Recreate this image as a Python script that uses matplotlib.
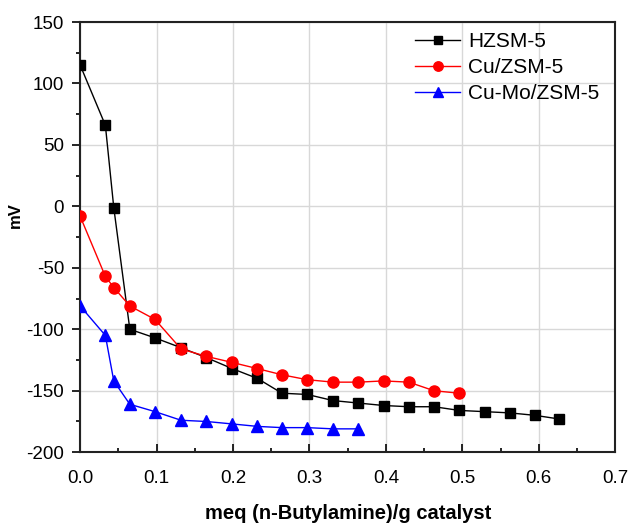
import matplotlib
matplotlib.use("Agg")
import matplotlib.pyplot as plt
from matplotlib.ticker import MultipleLocator

plt.rcParams['font.family'] = ['Liberation Sans', 'DejaVu Sans']
plt.rcParams['axes.unicode_minus'] = False

h_x = [0.0, 0.033, 0.044, 0.065, 0.098, 0.132, 0.165, 0.199, 0.232, 0.264, 0.297,
       0.331, 0.364, 0.397, 0.430, 0.463, 0.496, 0.529, 0.562, 0.595, 0.627]
h_y = [115, 66, -1, -100, -107, -115, -123, -132, -140, -152, -153,
       -158, -160, -162, -163, -163, -166, -167, -168, -170, -173]

cu_x = [0.0, 0.033, 0.044, 0.065, 0.098, 0.132, 0.165, 0.199, 0.232, 0.264, 0.297,
        0.331, 0.364, 0.397, 0.430, 0.463, 0.496]
cu_y = [-8, -57, -66, -81, -92, -116, -122, -127, -132, -137, -141,
        -143, -143, -142, -143, -150, -152]

cm_x = [0.0, 0.033, 0.044, 0.065, 0.098, 0.132, 0.165, 0.199, 0.232, 0.264, 0.297,
        0.331, 0.364]
cm_y = [-81, -105, -142, -161, -167, -174, -175, -177, -179, -180, -180, -181, -181]

fig = plt.figure(figsize=(6.31, 5.24), dpi=100)
ax = fig.add_axes([0.127, 0.137, 0.848, 0.821])

ax.plot(h_x, h_y, color='black', marker='s', markersize=7, linewidth=1, label='HZSM-5', zorder=3)
ax.plot(cu_x, cu_y, color='red', marker='o', markersize=8, linewidth=1, label='Cu/ZSM-5', zorder=3)
ax.plot(cm_x, cm_y, color='blue', marker='^', markersize=8, linewidth=1, label='Cu-Mo/ZSM-5', zorder=3)

ax.set_xlim(0, 0.7)
ax.set_ylim(-200, 150)
ax.xaxis.set_major_locator(MultipleLocator(0.1))
ax.xaxis.set_minor_locator(MultipleLocator(0.05))
ax.yaxis.set_major_locator(MultipleLocator(50))
ax.yaxis.set_minor_locator(MultipleLocator(25))
ax.xaxis.set_major_formatter(matplotlib.ticker.FormatStrFormatter('%.1f'))

ax.grid(True, which='major', color='#d8d8d8', linewidth=1)
ax.set_axisbelow(True)
for s in ax.spines.values():
    s.set_linewidth(1.5)
    s.set_color('#222222')

ax.tick_params(axis='x', which='both', direction='in', labelsize=13.5, pad=13)
ax.tick_params(axis='x', which='major', length=6, width=1.2)
ax.tick_params(axis='x', which='minor', length=3, width=1.2)
ax.tick_params(axis='y', which='both', direction='out', labelsize=13.5, pad=5.5)
ax.tick_params(axis='y', which='major', length=6, width=1.2)
ax.tick_params(axis='y', which='minor', length=3, width=1.2)

ax.set_xlabel('meq (n-Butylamine)/g catalyst', fontsize=14.5, fontweight='bold', va='center')
ax.xaxis.set_label_coords(0.5, -0.142)
ax.set_ylabel('mV', fontsize=12, fontweight='bold', va='center')
ax.yaxis.set_label_coords(-0.121, 0.551)

leg = ax.legend(loc='upper right', bbox_to_anchor=(0.997, 1.011), fontsize=15, frameon=False,
                handlelength=2.2, handletextpad=0.35, borderaxespad=0.3, labelspacing=0.35,
                markerscale=0.85)

fig.savefig('out.png', dpi=100)
